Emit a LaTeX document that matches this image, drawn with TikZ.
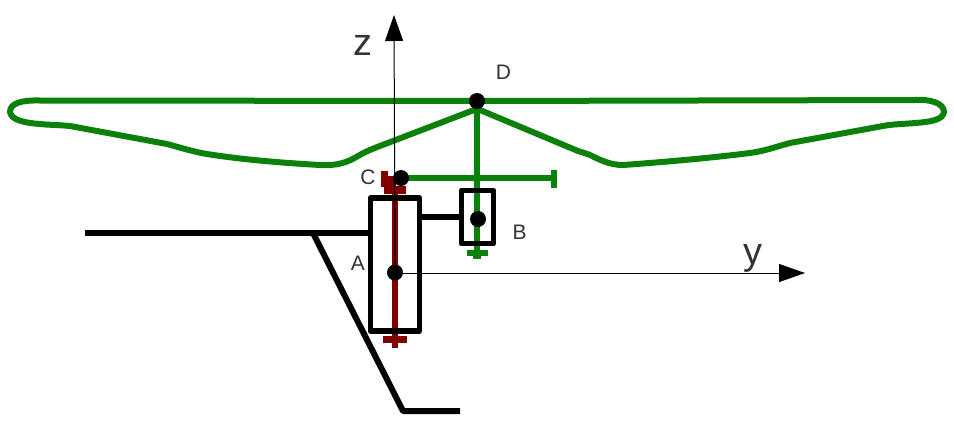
\documentclass[tikz,border=0pt]{standalone}
\usepackage{fontspec}
\setmainfont{Liberation Sans}
\usetikzlibrary{arrows.meta}
\definecolor{rotor}{HTML}{0B800B}
\definecolor{shaft}{HTML}{800000}
\definecolor{lab}{HTML}{333338}
\tikzset{
  x=1pt,y=-1pt,
  blade/.style={draw=rotor,line width=6pt,line cap=round,line join=round},
  frame/.style={draw=black,line width=6pt,line join=round},
  shaftline/.style={draw=shaft,line width=6pt},
  axis/.style={draw=black,line width=1pt,-{Triangle[length=26pt,width=18pt]}},
  dot/.style={circle,fill=black,inner sep=0pt,minimum size=16pt},
  lbl/.style={text=lab,inner sep=0pt,font=\fontsize{21}{21}\selectfont},
  axlbl/.style={text=lab,inner sep=0pt,font=\fontsize{38}{38}\selectfont}
}
\begin{document}
\begin{tikzpicture}
\useasboundingbox (0,0) rectangle (954,424);
\fill[white] (0,0) rectangle (954,424);
% coordinates
\coordinate (O) at (395,273);
\coordinate (zend) at (394,15);
\coordinate (yend) at (805,273);
\coordinate (hingeL) at (313,233);
\coordinate (beamL) at (85,233);
\coordinate (footA) at (403,411);
\coordinate (footB) at (460,411);
\coordinate (barEnd) at (554,178);
% blade
\draw[blade] (477,101) -- (40,100.5)
  .. controls (22,100) and (10,103) .. (10,112)
  .. controls (11,120) and (25,123) .. (40,124)
  .. controls (50,125) and (60,125) .. (70,126)
  -- (167,144)
  .. controls (185,149) and (195,152) .. (207,154)
  .. controls (245,160) and (285,163) .. (320,165)
  .. controls (338,166) and (348,162) .. (358,156)
  .. controls (368,150) and (380,146) .. (393,141)
  -- (474,110) ;
\draw[blade] (477,101) -- (915,100)
  .. controls (930,99) and (944,103) .. (944,112)
  .. controls (943,120) and (930,122) .. (915,123)
  .. controls (905,124) and (893,124) .. (883,126)
  -- (790,143)
  .. controls (775,147) and (765,151) .. (750,153)
  .. controls (710,158) and (665,162) .. (623,165)
  .. controls (610,165) and (600,160) .. (590,155)
  .. controls (585,153) and (581,152) .. (578,151)
  -- (480,110);
% red shaft and ends
\draw[shaftline] (395,190) -- (395,346);
\fill[shaft] (383,335.5) rectangle (407,342.5);
\fill[shaft] (392,342) rectangle (398,348);
\fill[shaft] (381,171) rectangle (388,186);
\fill[shaft] (381,176) rectangle (396,187);
\fill[shaft] (384,186) rectangle (406,194);
% frame
\draw[frame] (beamL) -- (370,233);
\draw[frame] (hingeL) -- (footA) -- (footB);
\draw[frame,line width=5.5pt] (370.5,198) rectangle (419.5,331);
% green shaft and bar
\draw[draw=rotor,line width=6pt] (477,101) -- (477,253);
\fill[rotor] (467,250) rectangle (488,256);
\fill[rotor] (473,256) rectangle (481,258.5);
\draw[draw=rotor,line width=5.5pt] (401,178) -- (barEnd);
\fill[rotor] (551,170) rectangle (557,188);
% box B
\draw[frame] (419.5,217) -- (461.5,217);
\draw[frame,line width=5.5pt] (461.5,190.5) rectangle (493.5,243.5);
% axes
\draw[axis] (O) -- (zend);
\draw[axis] (O) -- (yend);
% joints
\node[dot] (D) at (477,101) {};
\node[dot] (C) at (401,178) {};
\node[dot] (B) at (478,219) {};
\node[dot] (A) at (395,272.5) {};
% labels
\node[lbl] (labD) at (503.5,72) {D};
\node[lbl] (labC) at (368,177) {C};
\node[lbl] (labB) at (519.5,232) {B};
\node[lbl] (labA) at (358,263) {A};
\node[axlbl] (labz) at (363,45) {z};
\node[axlbl] (laby) at (753,258) {y};
\end{tikzpicture}
\end{document}
